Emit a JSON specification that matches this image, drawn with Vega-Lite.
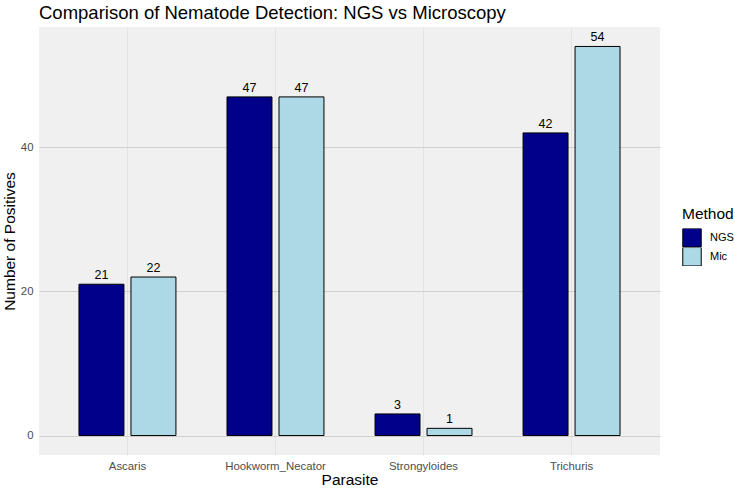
{
  "$schema": "https://vega.github.io/schema/vega-lite/v6.json",
  "autosize": "none",
  "width": 621,
  "height": 428,
  "padding": {"left": 39, "top": 27, "right": 75, "bottom": 34},
  "background": "white",
  "title": {
    "text": "Comparison of Nematode Detection: NGS vs Microscopy",
    "anchor": "start",
    "frame": "group",
    "font": "Liberation Sans",
    "fontSize": 18.5,
    "fontWeight": "normal",
    "color": "black",
    "offset": 5
  },
  "data": {
    "values": [
      {"Parasite": "Ascaris", "Method": "NGS", "Positives": 21},
      {"Parasite": "Ascaris", "Method": "Mic", "Positives": 22},
      {"Parasite": "Hookworm_Necator", "Method": "NGS", "Positives": 47},
      {"Parasite": "Hookworm_Necator", "Method": "Mic", "Positives": 47},
      {"Parasite": "Strongyloides", "Method": "NGS", "Positives": 3},
      {"Parasite": "Strongyloides", "Method": "Mic", "Positives": 1},
      {"Parasite": "Trichuris", "Method": "NGS", "Positives": 42},
      {"Parasite": "Trichuris", "Method": "Mic", "Positives": 54}
    ]
  },
  "encoding": {
    "x": {
      "field": "Parasite",
      "type": "nominal",
      "scale": {"paddingInner": 0.345, "paddingOuter": 0.27},
      "axis": {
        "labelAngle": 0,
        "title": "Parasite",
        "ticks": false,
        "domain": false,
        "grid": true,
        "bandPosition": 0.5,
        "gridColor": "#E3E3E3",
        "gridWidth": 1,
        "labelColor": "#4D4D4D",
        "labelFont": "Liberation Sans",
        "labelFontSize": 11.4,
        "labelPadding": 5,
        "titleFont": "Liberation Sans",
        "titleFontSize": 15.5,
        "titleFontWeight": "normal",
        "titleColor": "black",
        "titlePadding": 1
      }
    },
    "xOffset": {
      "field": "Method",
      "type": "nominal",
      "sort": ["NGS", "Mic"],
      "scale": {"paddingInner": 0.135, "paddingOuter": 0}
    },
    "y": {
      "field": "Positives",
      "type": "quantitative",
      "scale": {"domain": [-2.7, 56.7], "nice": false, "zero": false},
      "axis": {
        "title": "Number of Positives",
        "values": [0, 20, 40],
        "ticks": false,
        "domain": false,
        "grid": true,
        "gridColor": "#D0D0D0",
        "gridWidth": 1.1,
        "labelColor": "#4D4D4D",
        "labelFont": "Liberation Sans",
        "labelFontSize": 11.4,
        "labelPadding": 6,
        "titleFont": "Liberation Sans",
        "titleFontSize": 15.5,
        "titleFontWeight": "normal",
        "titleColor": "black",
        "titlePadding": 3
      }
    }
  },
  "layer": [
    {
      "mark": {"type": "bar", "stroke": "black", "strokeWidth": 1},
      "encoding": {
        "y": {"field": "Positives", "type": "quantitative"},
        "y2": {"datum": 0},
        "fill": {
          "field": "Method",
          "type": "nominal",
          "sort": ["NGS", "Mic"],
          "scale": {"domain": ["NGS", "Mic"], "range": ["#00008B", "#ADD8E6"]},
          "legend": {
            "title": "Method",
            "orient": "none",
            "legendX": 643,
            "legendY": 180,
            "symbolType": "square",
            "symbolSize": 340,
            "symbolStrokeColor": "black",
            "symbolStrokeWidth": 1,
            "titleFont": "Liberation Sans",
            "titleFontSize": 15.5,
            "titleFontWeight": "normal",
            "titleColor": "black",
            "titlePadding": 6,
            "labelFont": "Liberation Sans",
            "labelFontSize": 11,
            "labelColor": "black",
            "rowPadding": 0,
            "clipHeight": 18.5,
            "labelOffset": 8
          }
        }
      }
    },
    {
      "mark": {"type": "text", "baseline": "bottom", "dy": -2, "font": "Liberation Sans", "fontSize": 12.5, "color": "black"},
      "encoding": {
        "text": {"field": "Positives", "type": "quantitative"}
      }
    }
  ],
  "config": {
    "view": {"fill": "#F0F0F0", "stroke": null}
  }
}
